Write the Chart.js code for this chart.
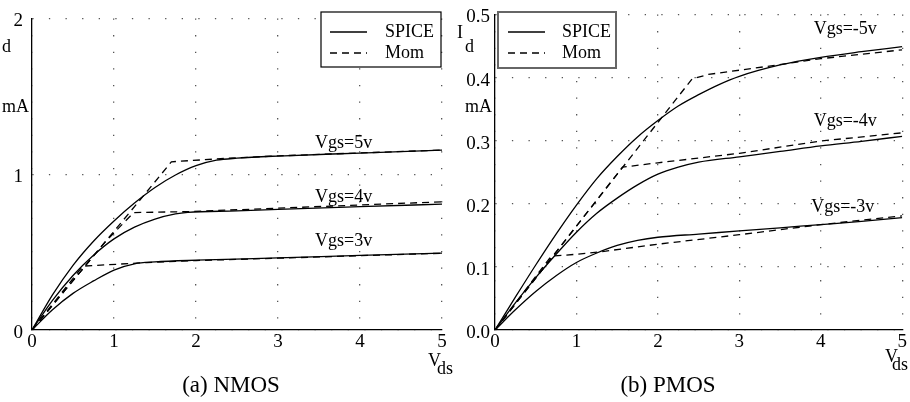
<!DOCTYPE html>
<html><head><meta charset="utf-8">
<script src="https://cdn.jsdelivr.net/npm/chart.js@4/dist/chart.umd.min.js"></script>
<style>
html,body{margin:0;padding:0;background:#fff;width:910px;height:402px;overflow:hidden}
canvas{position:absolute;top:0}
#cA{left:0}
#cB{left:455px}
</style></head>
<body>
<canvas id="cA" width="455" height="402" style="width:455px;height:402px"></canvas>
<canvas id="cB" width="455" height="402" style="width:455px;height:402px"></canvas>
<script>
// ---------- DATA ----------
const seriesNames = ['SPICE', 'Mom'];
// NMOS (mA vs Vds)
const nmosLabels = ['Vgs=5v', 'Vgs=4v', 'Vgs=3v'];
const nV5s = [0,0.25,0.5,0.75,1,1.25,1.5,1.75,2,2.25,2.5,3,4,5];
const nI5s = [0,0.225,0.415,0.57,0.70,0.815,0.915,0.995,1.055,1.09,1.103,1.117,1.136,1.155];
const nV4s = [0,0.25,0.5,0.75,1,1.25,1.5,1.75,1.9,2.5,3,4,5];
const nI4s = [0,0.19,0.35,0.48,0.585,0.66,0.712,0.745,0.755,0.765,0.775,0.792,0.808];
const nV3s = [0,0.25,0.5,0.75,1,1.25,1.5,2,3,4,5];
const nI3s = [0,0.13,0.235,0.315,0.385,0.425,0.437,0.448,0.4625,0.479,0.494];
const nV5m = [0,1.38,1.70,2.3,3,4,5];
const nI5m = [0,0.875,1.08,1.10,1.118,1.137,1.155];
const nV4m = [0,0.9,1.24,1.9,3,4,5];
const nI4m = [0,0.57,0.754,0.760,0.782,0.803,0.823];
const nV3m = [0,0.62,1.4,2,3,4,5];
const nI3m = [0,0.41,0.433,0.446,0.461,0.477,0.493];
// PMOS
const pmosLabels = ['Vgs=-5v', 'Vgs=-4v', 'Vgs=-3v'];
const pV5s = [0,0.25,0.5,0.75,1,1.25,1.5,1.75,2,2.25,2.5,2.75,3,3.5,4,4.5,5];
const pI5s = [0,0.052,0.103,0.152,0.198,0.24,0.275,0.306,0.332,0.355,0.373,0.389,0.402,0.42,0.432,0.441,0.449];
const pV4s = [0,0.25,0.5,0.75,1,1.25,1.5,1.75,2,2.25,2.5,3,3.5,4,4.5,5];
const pI4s = [0,0.043,0.083,0.12,0.155,0.185,0.209,0.23,0.247,0.258,0.266,0.2745,0.283,0.2917,0.299,0.307];
const pV3s = [0,0.25,0.5,0.75,1,1.25,1.5,1.75,2,2.5,3,3.5,4,4.5,5];
const pI3s = [0,0.032,0.061,0.086,0.107,0.122,0.134,0.142,0.147,0.152,0.157,0.162,0.167,0.172,0.178];
const pV5m = [0,2.42,2.62,3.3,4,5];
const pI5m = [0,0.398,0.405,0.417,0.43,0.444];
const pV4m = [0,1.565,2,3,4,5];
const pI4m = [0,0.258,0.265,0.28,0.2995,0.3125];
const pV3m = [0,0.69,1,1.36,2,3,4,5];
const pI3m = [0,0.117,0.12,0.125,0.136,0.151,0.167,0.181];
// ticks
const xTicks = [0,1,2,3,4,5];
const nYTicks = [0,1,2];
const pYTicks = [0,0.1,0.2,0.3,0.4,0.5];

// ---------- RENDER ----------
const FONT = '"Liberation Serif","Times New Roman",serif';
const pts = (xs, ys) => xs.map((x, i) => ({x, y: ys[i]}));
const DASH = [7, 5];

function ds(label, xs, ys, dashed) {
  return {
    label, data: pts(xs, ys),
    borderColor: '#000', backgroundColor: '#000',
    borderWidth: 1.3, borderDash: dashed ? DASH : [],
    pointRadius: 0, fill: false,
    tension: dashed ? 0 : 0.4,
    cubicInterpolationMode: dashed ? 'default' : 'monotone'
  };
}

function textPlugin(cfg) {
  return {
    id: 'texts',
    afterDatasetsDraw(chart) {
      const ctx = chart.ctx;
      const xs = chart.scales.x, ys = chart.scales.y;
      ctx.save();
      ctx.fillStyle = '#000';
      ctx.font = '18px ' + FONT;
      ctx.textAlign = 'center'; ctx.textBaseline = 'middle';
      cfg.curveLabels.forEach(l => {
        ctx.fillText(l.t, xs.getPixelForValue(l.x), ys.getPixelForValue(l.y));
      });
      const L = cfg.legend;
      ctx.fillStyle = '#fff';
      ctx.fillRect(L.x, L.y, L.w, L.h);
      ctx.strokeStyle = L.color; ctx.lineWidth = L.lw;
      ctx.strokeRect(L.x, L.y, L.w, L.h);
      ctx.fillStyle = '#000';
      ctx.font = '18px ' + FONT;
      ctx.textAlign = 'left'; ctx.textBaseline = 'middle';
      const items = chart.data.datasets.filter(d => seriesNames.includes(d.label));
      items.forEach((d, i) => {
        const yy = L.y + 20 + i * 21;
        ctx.strokeStyle = '#000'; ctx.lineWidth = 1.3;
        ctx.setLineDash(d.borderDash);
        ctx.beginPath(); ctx.moveTo(L.x + L.lx0, yy); ctx.lineTo(L.x + L.lx1, yy); ctx.stroke();
        ctx.setLineDash([]);
        ctx.fillText(d.label, L.x + L.tx, yy);
      });
      ctx.textBaseline = 'alphabetic';
      cfg.texts.forEach(t => {
        ctx.font = t.size + 'px ' + FONT;
        ctx.textAlign = t.align || 'left';
        ctx.fillText(t.t, t.x, t.y);
      });
      ctx.restore();
    }
  };
}

function makeChart(id, datasets, yMax, yTicks, yWidth, padRight, fmt, cfg) {
  const tickFont = {family: FONT, size: 19, lineHeight: 1};
  return new Chart(document.getElementById(id), {
    type: 'line',
    data: {datasets},
    options: {
      responsive: false, animation: false, events: [],
      layout: {padding: {top: 10, right: padRight, left: 0, bottom: 0}},
      plugins: {legend: {display: false}, tooltip: {enabled: false}},
      scales: {
        x: {
          type: 'linear', min: 0, max: 5,
          afterBuildTicks: s => { s.ticks = xTicks.map(v => ({value: v})); },
          ticks: {font: tickFont, color: '#000', padding: 3, maxRotation: 0, autoSkip: false,
                  callback: v => String(v)},
          grid: {color: '#555', lineWidth: 1.3, drawTicks: false},
          border: {display: true, color: '#000', width: 1.3, dash: [1.3, 15.3]},
          afterFit: s => { s.height = 72; }
        },
        y: {
          type: 'linear', min: 0, max: yMax,
          afterBuildTicks: s => { s.ticks = yTicks.map(v => ({value: v})); },
          ticks: {font: tickFont, color: '#000', padding: cfg.yPad, labelOffset: 3, autoSkip: false,
                  callback: fmt},
          grid: {color: '#555', lineWidth: 1.3, drawTicks: false},
          border: {display: true, color: '#000', width: 1.3, dash: [1.3, 15.3]},
          afterFit: s => { s.width = yWidth; }
        }
      }
    },
    plugins: [textPlugin(cfg)]
  });
}

makeChart('cA', [
  ds(seriesNames[0], nV5s, nI5s, false),
  ds(seriesNames[1], nV5m, nI5m, true),
  ds(nmosLabels[1] + ' SPICE', nV4s, nI4s, false),
  ds(nmosLabels[1] + ' Mom', nV4m, nI4m, true),
  ds(nmosLabels[2] + ' SPICE', nV3s, nI3s, false),
  ds(nmosLabels[2] + ' Mom', nV3m, nI3m, true)
], 2, nYTicks, 32, 13, v => String(v), {
  yPad: 9,
  curveLabels: [
    {t: nmosLabels[0], x: 3.8, y: 1.20},
    {t: nmosLabels[1], x: 3.8, y: 0.85},
    {t: nmosLabels[2], x: 3.8, y: 0.569}
  ],
  legend: {x: 321, y: 12, w: 120, h: 55, color: '#000', lw: 1.2, lx0: 9, lx1: 46, tx: 64},
  texts: [
    {t: 'd', x: 2, y: 52, size: 18},
    {t: 'mA', x: 2, y: 112, size: 18},
    {t: 'V', x: 428, y: 366, size: 18},
    {t: 'ds', x: 437, y: 374, size: 18},
    {t: '(a) NMOS', x: 231, y: 392, size: 23, align: 'center'}
  ]
});

makeChart('cB', [
  ds(seriesNames[0], pV5s, pI5s, false),
  ds(seriesNames[1], pV5m, pI5m, true),
  ds(pmosLabels[1] + ' SPICE', pV4s, pI4s, false),
  ds(pmosLabels[1] + ' Mom', pV4m, pI4m, true),
  ds(pmosLabels[2] + ' SPICE', pV3s, pI3s, false),
  ds(pmosLabels[2] + ' Mom', pV3m, pI3m, true)
], 0.5, pYTicks, 40, 5, v => Number(v).toFixed(1), {
  yPad: 5,
  curveLabels: [
    {t: pmosLabels[0], x: 4.3, y: 0.477},
    {t: pmosLabels[1], x: 4.3, y: 0.331},
    {t: pmosLabels[2], x: 4.27, y: 0.195}
  ],
  legend: {x: 43, y: 12, w: 118, h: 56, color: '#666', lw: 2, lx0: 10, lx1: 47, tx: 64},
  texts: [
    {t: 'I', x: 2, y: 38, size: 18},
    {t: 'd', x: 10, y: 52, size: 18},
    {t: 'mA', x: 10, y: 112, size: 18},
    {t: 'V', x: 430, y: 362, size: 18},
    {t: 'ds', x: 437, y: 370, size: 18},
    {t: '(b) PMOS', x: 213, y: 392, size: 23, align: 'center'}
  ]
});
</script>
</body></html>
